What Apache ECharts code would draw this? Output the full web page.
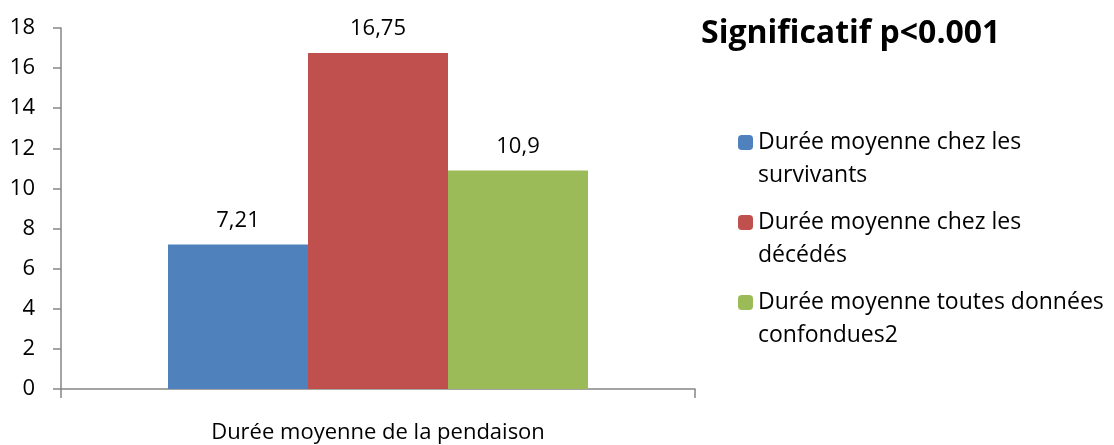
<!DOCTYPE html>
<html>
<head>
<meta charset="utf-8">
<script src="https://cdn.jsdelivr.net/npm/echarts@6/dist/echarts.min.js"></script>
<style>
  html, body { margin: 0; padding: 0; background: #fff; }
  #main { width: 1114px; height: 445px; }
</style>
</head>
<body>
<div id="main"></div>
<script>
// données
var categories = ['Durée moyenne de la pendaison'];
var seriesNames = [
    'Durée moyenne chez les survivants',
    'Durée moyenne chez les décédés',
    'Durée moyenne toutes données confondues2'
];
var legendLabels = [
    'Durée moyenne chez les\nsurvivants',
    'Durée moyenne chez les\ndécédés',
    'Durée moyenne toutes données\nconfondues2'
];
var survivants = [7.21];
var decedes = [16.75];
var toutes = [10.9];
var colors = ['#4F81BD', '#C0504D', '#9BBB59'];

var font = '"Open Sans", sans-serif';
var axisGrey = '#868686';

var myChart = echarts.init(document.getElementById('main'));

function makeBar(name, values, color) {
    return {
        name: name,
        type: 'bar',
        data: values,
        barWidth: 140,
        barGap: '0%',
        itemStyle: { color: color },
        label: {
            show: true,
            position: 'top',
            distance: 13,
            fontFamily: font,
            fontSize: 22,
            color: '#000',
            formatter: function (p) {
                return String(p.value).replace('.', ','); // virgule décimale
            }
        }
    };
}

var option = {
    backgroundColor: '#fff',
    animation: false,
    title: {
        text: 'Significatif p<0.001',
        left: 696,
        top: 9,
        textStyle: {
            fontFamily: font,
            fontWeight: 'bold',
            fontSize: 32,
            lineHeight: 40,
            color: '#000'
        }
    },
    legend: {
        orient: 'vertical',
        left: 733,
        top: 88,
        itemWidth: 15,
        itemHeight: 15,
        itemGap: -19,
        data: seriesNames,
        formatter: function (name) {
            // ligne vide en tête : la 1re ligne se place au niveau du carré
            return '\n' + legendLabels[seriesNames.indexOf(name)];
        },
        textStyle: {
            fontFamily: font,
            fontSize: 23,
            lineHeight: 33,
            color: '#000'
        }
    },
    grid: {
        left: 61,
        right: 419,
        top: 28,
        bottom: 56
    },
    xAxis: {
        type: 'category',
        data: categories,
        axisLine: { lineStyle: { color: axisGrey, width: 1.5 } },
        axisTick: { show: true, length: 9, lineStyle: { color: axisGrey, width: 1.5 } },
        axisLabel: {
            margin: 33,
            fontFamily: font,
            fontSize: 22,
            color: '#000'
        }
    },
    yAxis: {
        type: 'value',
        min: 0,
        max: 18,
        interval: 2,
        splitLine: { show: false },
        axisLine: { show: true, lineStyle: { color: axisGrey, width: 1.5 } },
        axisTick: { show: true, length: 8, lineStyle: { color: axisGrey, width: 1.5 } },
        axisLabel: {
            margin: 26,
            fontFamily: font,
            fontSize: 22,
            color: '#000'
        }
    },
    series: [
        makeBar(seriesNames[0], survivants, colors[0]),
        makeBar(seriesNames[1], decedes, colors[1]),
        makeBar(seriesNames[2], toutes, colors[2])
    ]
};

myChart.setOption(option);
</script>
</body>
</html>
